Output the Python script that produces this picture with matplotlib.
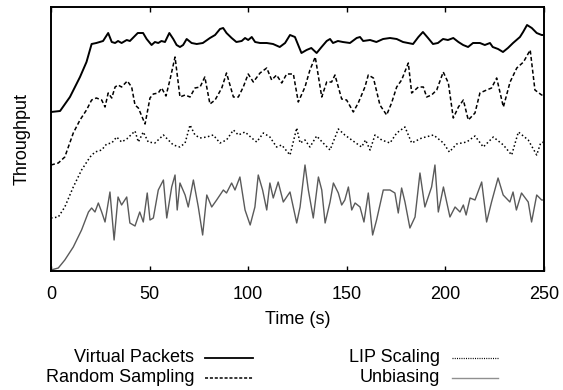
import matplotlib
matplotlib.use("Agg")
import matplotlib.pyplot as plt
from matplotlib.lines import Line2D

plt.rcParams['font.family'] = ['Liberation Sans', 'DejaVu Sans']

# Virtual Packets
vp_t = [0, 4.6, 9.6, 14.7, 18, 20.6, 23, 26.4, 29, 30.8, 32.5, 34, 35.8, 38.4, 40, 44, 46.7, 48.5, 51,
        52.7, 54.4, 56, 57.8, 60, 62, 63.7, 65.4, 67, 68.8, 71.3, 73.9, 77, 80.6, 83.2, 85.7, 87.3, 89,
        91.6, 94, 96.7, 98.4, 100, 101.8, 103.5, 106, 109.4, 112.6, 116, 118.7, 121.2, 123.7, 127, 129.6,
        132, 134.7, 137.2, 139.8, 141.5, 143, 145.5, 148, 151.6, 155, 156.7, 158.3, 161.8, 165, 168.4,
        171.9, 175.3, 178.5, 183.6, 186.3, 188.6, 191.2, 193.7, 196.2, 198.8, 201.3, 204, 206.6, 209,
        211.5, 214, 217.5, 220, 222.6, 224, 226.7, 229.2, 231.7, 234.3, 237.8, 239.4, 241.4, 243.8,
        246.3, 248.8, 250]
vp_y = [159, 160, 174, 194, 209, 227, 228, 230, 238, 229, 228, 230, 228, 231, 230, 238, 238, 232, 226,
        229, 228, 230, 229, 238, 232, 226, 224, 226, 232, 228, 227, 228, 233, 236, 242, 243, 238,
        233, 229, 230, 233, 231, 234, 229, 228, 228, 227, 224, 228, 236, 234, 218, 221,
        223, 218, 224, 230, 232, 228, 230, 229, 228, 233, 234, 230, 231, 229, 232,
        233, 232, 229, 227, 234, 239, 233, 227, 228, 232, 231, 233, 229, 226,
        224, 228, 228, 226, 228, 224, 222, 219, 223, 228, 234, 239, 246, 243,
        238, 236, 236]

# Random Sampling
rs_t = [0, 3.7, 7, 11.3, 14.7, 18, 20.6, 23, 25.7, 27.4, 29, 30.8, 32.5, 34, 35.8, 38.7, 40.9, 42.6,
        44.3, 47.7, 50.2, 51.9, 54.4, 56.1, 58.3, 60.3, 62.9, 65.4, 68, 70.5, 73, 75.6, 78, 80.6, 83.2,
        86.6, 89, 92.5, 95, 97.5, 100, 102.6, 106, 109.4, 111.9, 114.4, 117, 119.5, 122.9, 125.4, 128.8,
        131.3, 134, 137.3, 139.8, 142.3, 144, 147.4, 149.9, 153.3, 155.8, 159.2, 160.9, 163.5, 166.8,
        170.2, 172.7, 175.3, 177.8, 181.2, 182.9, 186.3, 188.8, 190.5, 193, 195.6, 198.9, 201.5, 204,
        206.6, 209.1, 211.6, 215, 217.5, 220.9, 223.4, 226, 229.4, 232.8, 236.2, 239.6, 243, 245.4,
        248.8, 250]
rs_y = [106, 108, 114, 138, 151, 161, 171, 173, 171, 164, 178, 173, 184, 186, 184, 190, 184, 166,
        163, 147, 173, 177, 178, 183, 175, 191, 214, 174, 176, 174, 183, 184, 194, 167, 171,
        183, 198, 174, 174, 184, 197, 189, 198, 203, 191, 196, 188, 197, 197, 169, 184,
        201, 214, 174, 189, 189, 196, 172, 171, 159, 168, 184, 196, 193, 166,
        156, 168, 184, 191, 208, 178, 184, 184, 174, 176, 181, 199, 188, 153,
        164, 171, 151, 158, 178, 181, 183, 193, 164, 189, 203, 209, 221, 181,
        176, 176]

# LIP Scaling
lip_t = [0, 3.7, 7, 11.3, 15.5, 19.8, 22.3, 25.7, 28.2, 30.8, 33.3, 35.8, 38.4, 42.6, 44.3, 46.8,
         49.3, 52.7, 57, 62, 65.4, 68, 70.5, 73, 75.6, 79, 82.3, 85.7, 89, 92.5, 95, 98.4, 101.8, 104.3,
         107.7, 111, 114.4, 117, 121.2, 124.6, 126.3, 128.8, 131.3, 134.7, 138, 141.5, 145.7, 149,
         152.5, 157.5, 159.5, 161.8, 164.3, 167.7, 171.9, 175.3, 179.5, 182.9, 188, 194, 199, 202,
         205.7, 210.8, 215, 219.2, 224.3, 229.4, 233.6, 237, 242, 246.3, 248.3, 250]
lip_y = [53, 54, 64, 84, 101, 114, 119, 121, 127, 128, 134, 129, 132, 140, 129, 139,
         129, 128, 136, 126, 124, 128, 146, 136, 133, 134, 136, 128, 131, 141, 136, 139, 133, 129,
         138, 134, 124, 126, 116, 143, 128, 131, 124, 135, 128, 121, 142, 136,
         131, 124, 131, 121, 136, 131, 128, 138, 144, 128, 133, 136, 128, 119,
         127, 129, 135, 124, 134, 126, 116, 139, 131, 116, 128, 129]

# Unbiasing
ub_t = [0, 3.7, 7, 11.3, 15.5, 19, 20.6, 22.3, 24, 25.7, 27.4, 29.9, 32, 34, 35.8, 38.4, 40, 42.6, 45,
        46.8, 48.8, 50.2, 51.9, 54.4, 57, 58.7, 61.2, 62.9, 64, 65.4, 68, 69.6, 72.2, 74.7, 76.9, 79,
        81.5, 84, 85.7, 87.4, 89, 91.6, 93.3, 95.8, 98.4, 101, 103.4, 105.1, 107.3, 109.4, 111, 112.7,
        115.2, 117.8, 121.2, 124.6, 126.3, 128.8, 130.5, 133, 135.6, 137.3, 139, 141.5, 143.2, 145.7,
        147.4, 149, 150.8, 152.5, 154.2, 156.7, 158.7, 160.9, 163.1, 165.1, 166.8, 168.5, 171.9, 174.4,
        176.1, 177.8, 179.5, 182, 184.6, 187.1, 189.6, 193, 194.7, 196.4, 199, 202.3, 204.9, 207.4,
        209.1, 210.5, 212.5, 215, 218.4, 220.9, 223.4, 226.7, 229.3, 232.7, 234.3, 236, 238.6, 242,
        243.7, 246.3, 248.8, 250]
ub_y = [1, 3, 11, 24, 41, 59, 63, 59, 68, 59, 49, 79, 31, 74, 66, 74, 48, 45, 59,
        49, 78, 51, 53, 81, 91, 53, 84, 96, 61, 88, 76, 64, 91, 64, 36, 76,
        64, 71, 76, 81, 78, 88, 81, 94, 61, 46, 64, 96, 81, 61, 88, 73,
        89, 69, 79, 48, 64, 106, 81, 53, 94, 81, 48, 69, 88, 78,
        66, 71, 84, 61, 68, 64, 49, 78, 36, 51, 66, 81, 81, 78,
        58, 83, 69, 43, 54, 98, 64, 84, 106, 59, 84, 54, 64, 59,
        66, 56, 73, 71, 89, 49, 69, 93, 76, 69, 79, 61, 78, 69,
        49, 76, 71, 71]

x_ticks = [0, 50, 100, 150, 200, 250]

fig = plt.figure(figsize=(5.63, 3.90), dpi=100)
ax = fig.add_axes([51 / 563, 1 - 271 / 390, 493 / 563, 264 / 390])

ax.plot(vp_t, vp_y, color='black', lw=1.4, solid_joinstyle='round')
ax.plot(rs_t, rs_y, color='black', lw=1.1, dashes=(2.6, 1.6))
ax.plot(lip_t, lip_y, color='black', lw=1.1, dashes=(1.0, 1.6))
ax.plot(ub_t, ub_y, color='#5a5a5a', lw=1.0)

ax.set_xlim(0, 250)
ax.set_ylim(0, 264)
ax.set_xticks(x_ticks)
ax.set_xticklabels([str(v) for v in x_ticks])
ax.set_yticks([])
ax.tick_params(axis='x', direction='in', length=3.6, width=1.0, top=True, bottom=True,
               labelsize=13, pad=10.5)
for s in ax.spines.values():
    s.set_linewidth(1.4)

ax.set_xlabel('Time (s)', fontsize=13, labelpad=6)
ax.set_ylabel('Throughput', fontsize=13, labelpad=15)

# Legend (gnuplot style: text right-aligned, sample to the right)
W, H = 563.0, 390.0
entries = [
    ('Virtual Packets', 194, 205, 253, 358, dict(color='black', lw=1.3)),
    ('Random Sampling', 194, 205, 253, 378, dict(color='black', lw=1.1, dashes=(2.0, 1.2))),
    ('LIP Scaling', 440, 452, 498, 358, dict(color='black', lw=0.9, dashes=(0.8, 1.0))),
    ('Unbiasing', 440, 452, 498, 378, dict(color='#909090', lw=1.0)),
]
for label, tx, x0, x1, y, style in entries:
    fig.text(tx / W, 1 - y / H, label, ha='right', va='center', fontsize=13)
    fig.add_artist(Line2D([x0 / W, x1 / W], [1 - y / H, 1 - y / H], transform=fig.transFigure, **style))

fig.savefig('out.png', dpi=100)
